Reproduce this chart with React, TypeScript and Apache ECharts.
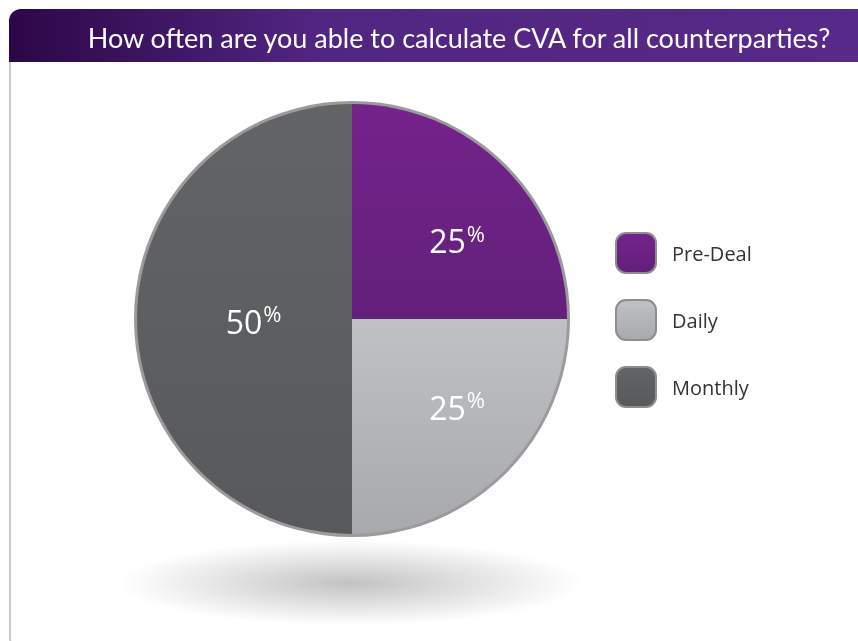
import React, { useEffect, useRef } from "react";
import * as echarts from "echarts";

const title = "How often are you able to calculate CVA for all counterparties?";
const categories = ["Pre-Deal", "Daily", "Monthly"];
const values = [25, 25, 50];

const sliceColors = [
  ["#74238b", "#63207b"],
  ["#c0c1c5", "#a8a9ad"],
  ["#636466", "#58595b"],
];
const labelShift = [
  [27, 0],
  [27, 10],
  [12, 2],
];

export default function App() {
  const ref = useRef<HTMLDivElement>(null);
  useEffect(() => {
    if (!ref.current) return;
    const chart = echarts.init(ref.current, undefined, { renderer: "svg" });
    const grad = (c: string[]) =>
      new echarts.graphic.LinearGradient(0, 0, 0, 1, [
        { offset: 0, color: c[0] },
        { offset: 1, color: c[1] },
      ]);

    const shadow: any[] = [];
    const N = 30;
    for (let i = 0; i < N; i++) {
      const f = 1 - i / N;
      shadow.push({
        type: "ellipse",
        z: 1,
        silent: true,
        shape: { cx: 351, cy: 583, rx: 228 * f, ry: 42 * f },
        style: { fill: "#30303a", opacity: 0.0095 },
      });
    }

    chart.setOption({
      animation: false,
      graphic: [
        {
          type: "rect",
          z: 0,
          silent: true,
          shape: { x: 10, y: 10, width: 900, height: 640, r: 12 },
          style: { fill: "#ffffff", stroke: "#c9c9c9", lineWidth: 2 },
        },
        {
          type: "rect",
          z: 1,
          silent: true,
          shape: { x: 9, y: 9, width: 880, height: 53, r: [12, 0, 0, 0] },
          style: {
            fill: new echarts.graphic.LinearGradient(0, 0, 1, 0, [
              { offset: 0, color: "#2c0747" },
              { offset: 0.35, color: "#512582" },
              { offset: 1, color: "#582a89" },
            ]),
          },
        },
        {
          type: "text",
          z: 2,
          silent: true,
          x: 459,
          y: 37,
          style: {
            text: title,
            fill: "#ffffff",
            font: "27px Lato",
            align: "center",
            verticalAlign: "middle",
          },
        },
        ...shadow,
      ],
      legend: {
        orient: "vertical",
        left: 615,
        top: 232,
        padding: 0,
        itemWidth: 40,
        itemHeight: 40,
        itemGap: 25,
        icon: "roundRect",
        textStyle: {
          fontFamily: "Open Sans",
          fontSize: 20,
          color: "#333333",
          padding: [0, 0, 0, 11],
        },
        data: categories.map((name, i) => ({
          name,
          itemStyle: {
            color: grad(sliceColors[i]),
            borderColor: "#8e8e90",
            borderWidth: 2,
          },
        })),
      },
      series: [
        {
          type: "pie",
          z: 1,
          silent: true,
          center: [352, 319],
          radius: 218,
          startAngle: 90,
          label: { show: false },
          labelLine: { show: false },
          itemStyle: { color: "#9b9b9d" },
          data: [{ name: "__rim", value: 1 }],
        },
        {
          type: "pie",
          z: 3,
          center: [352, 319],
          radius: 215,
          startAngle: 90,
          clockwise: true,
          label: {
            show: true,
            position: "inside",
            formatter: (p: any) => `{v|${p.value}}{p|%}`,
            rich: {
              v: {
                fontFamily: "Open Sans",
                fontSize: 32,
                color: "#ffffff",
                lineHeight: 40,
              },
              p: {
                fontFamily: "Open Sans",
                fontSize: 22,
                color: "#ffffff",
                lineHeight: 22,
                verticalAlign: "top",
                padding: [1, 0, 0, 1],
              },
            },
          },
          labelLayout: (params: any) => ({
            dx: labelShift[params.dataIndex][0],
            dy: labelShift[params.dataIndex][1],
          }),
          labelLine: { show: false },
          data: categories.map((name, i) => ({
            name,
            value: values[i],
            itemStyle: { color: grad(sliceColors[i]) },
          })),
        },
      ],
    });
    return () => chart.dispose();
  }, []);
  return (
    <div
      ref={ref}
      style={{ position: "fixed", left: 0, top: 0, width: 858, height: 641 }}
    />
  );
}
